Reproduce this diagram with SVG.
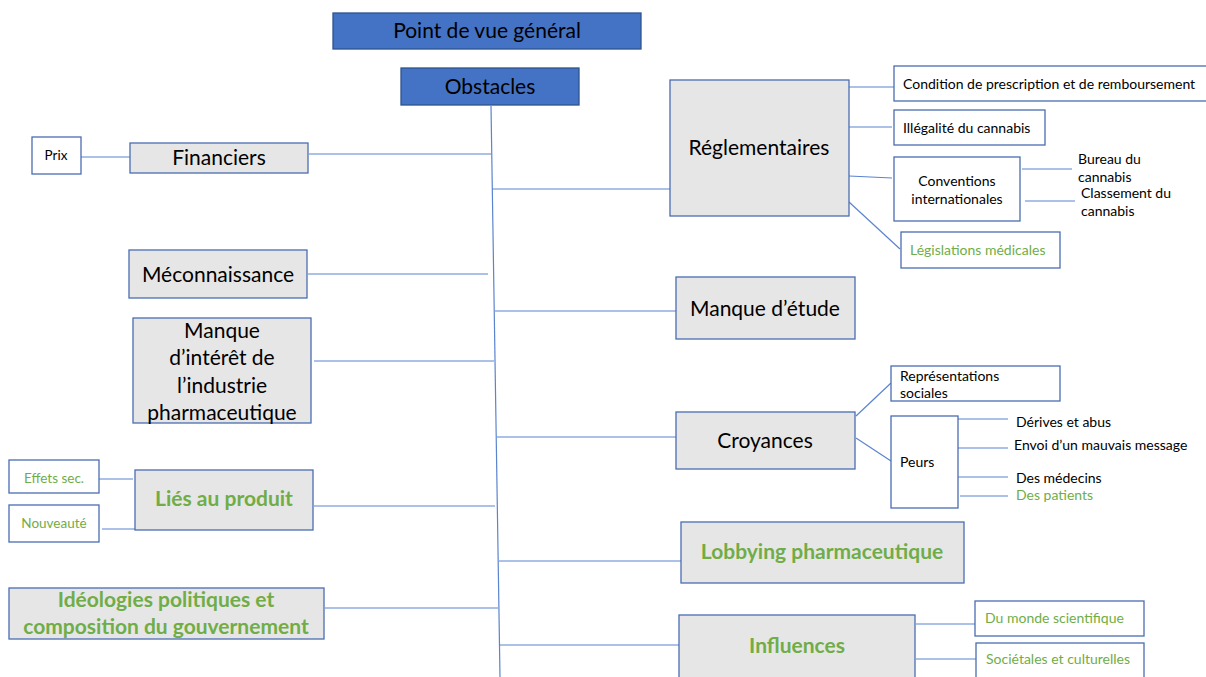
<svg xmlns="http://www.w3.org/2000/svg" width="1206" height="677" viewBox="0 0 1206 677">
<style>
.t{font-family:Lato,"Liberation Sans",sans-serif;fill:#000}
.big{font-size:21px}
.sm{font-size:14px}
.xs{font-size:13.5px}
.g{fill:#70AD47}
.b{font-weight:bold}
.gray{fill:#E7E6E6;stroke:#4A6DB3;stroke-width:1.3}
.wh{fill:#fff;stroke:#4A6DB3;stroke-width:1.3}
.blue{fill:#4472C4;stroke:#2F528F;stroke-width:1.3}
.c line{stroke:#5B84CF;stroke-width:1.2}
</style>
<rect width="1206" height="677" fill="#fff"/>
<g class="c" id="connectors">
<line x1="491" y1="106" x2="500" y2="677"/>
<line x1="309" y1="154" x2="491" y2="154"/>
<line x1="81" y1="157" x2="130" y2="157"/>
<line x1="308" y1="274" x2="488" y2="274"/>
<line x1="314" y1="361" x2="494" y2="361"/>
<line x1="314" y1="506" x2="495" y2="506"/>
<line x1="99" y1="479" x2="133" y2="479"/>
<line x1="102" y1="529" x2="135" y2="529"/>
<line x1="325" y1="608" x2="498" y2="608"/>
<line x1="492" y1="189" x2="670" y2="189"/>
<line x1="495" y1="311" x2="676" y2="311"/>
<line x1="497" y1="437" x2="676" y2="437"/>
<line x1="499" y1="561" x2="681" y2="561"/>
<line x1="500" y1="645" x2="679" y2="645"/>
<line x1="849" y1="87" x2="894" y2="87"/>
<line x1="847" y1="127" x2="892" y2="127"/>
<line x1="849" y1="176" x2="892" y2="178"/>
<line x1="849" y1="202" x2="900" y2="249"/>
<line x1="1022" y1="169" x2="1072" y2="169"/>
<line x1="1025" y1="201" x2="1075" y2="201"/>
<line x1="856" y1="416" x2="891" y2="383"/>
<line x1="856" y1="438" x2="891" y2="461"/>
<line x1="958" y1="419" x2="1008" y2="419"/>
<line x1="958" y1="448" x2="1008" y2="448"/>
<line x1="958" y1="477" x2="1008" y2="477"/>
<line x1="960" y1="496" x2="1008" y2="496"/>
<line x1="916" y1="624" x2="975" y2="624"/>
<line x1="916" y1="659" x2="976" y2="659"/>
</g>
<g id="title"><rect class="blue" x="333" y="13" width="308" height="36" stroke="none"/><text class="t big" x="487" y="38" text-anchor="middle">Point de vue général</text></g>
<g id="obstacles"><rect class="blue" x="401" y="68" width="178" height="37"/><text class="t big" x="490" y="94" text-anchor="middle">Obstacles</text></g>
<g id="prix"><rect class="wh" x="32" y="137" width="49" height="37"/><text class="t xs" x="56" y="160" text-anchor="middle">Prix</text></g>
<g id="financiers"><rect class="gray" x="130" y="143" width="178" height="30"/><text class="t big" x="219" y="165" text-anchor="middle">Financiers</text></g>
<g id="meconnaissance"><rect class="gray" x="129" y="250" width="178" height="48"/><text class="t big" x="218" y="282" text-anchor="middle">Méconnaissance</text></g>
<g id="manque-interet"><rect class="gray" x="133" y="318" width="178" height="105"/><text class="t big" text-anchor="middle"><tspan x="222" y="338">Manque</tspan><tspan x="222" y="365">d’intérêt de</tspan><tspan x="222" y="393">l’industrie</tspan><tspan x="222" y="420">pharmaceutique</tspan></text></g>
<g id="effets"><rect class="wh" x="9" y="460" width="90" height="33"/><text class="t xs g" x="54" y="483" text-anchor="middle">Effets sec.</text></g>
<g id="nouveaute"><rect class="wh" x="9" y="505" width="90" height="37"/><text class="t xs g" x="54" y="528" text-anchor="middle">Nouveauté</text></g>
<g id="lies"><rect class="gray" x="135" y="470" width="178" height="60"/><text class="t big g b" x="224" y="506" text-anchor="middle">Liés au produit</text></g>
<g id="ideologies"><rect class="gray" x="9" y="588" width="315" height="51"/><text class="t big g b" text-anchor="middle"><tspan x="166" y="607">Idéologies politiques et</tspan><tspan x="166" y="634">composition du gouvernement</tspan></text></g>
<g id="reglementaires"><rect class="gray" x="670" y="80" width="179" height="136"/><text class="t big" x="759" y="155" text-anchor="middle">Réglementaires</text></g>
<g id="condition"><rect class="wh" x="894" y="66" width="320" height="35"/><text class="t sm" x="903" y="89">Condition de prescription et de remboursement</text></g>
<g id="illegalite"><rect class="wh" x="894" y="110" width="151" height="35"/><text class="t sm" x="903" y="133">Illégalité du cannabis</text></g>
<g id="conventions"><rect class="wh" x="894" y="157" width="126" height="64"/><text class="t sm" text-anchor="middle"><tspan x="957" y="186">Conventions</tspan><tspan x="957" y="204">internationales</tspan></text></g>
<g id="bureau"><text class="t sm"><tspan x="1078" y="164">Bureau du</tspan><tspan x="1078" y="182">cannabis</tspan></text></g>
<g id="classement"><text class="t sm"><tspan x="1081" y="198">Classement du</tspan><tspan x="1081" y="216">cannabis</tspan></text></g>
<g id="legislations"><rect class="wh" x="901" y="232" width="159" height="36"/><text class="t sm g" x="910" y="255">Législations médicales</text></g>
<g id="manque-etude"><rect class="gray" x="676" y="277" width="179" height="62"/><text class="t big" x="765" y="316" text-anchor="middle">Manque d’étude</text></g>
<g id="croyances"><rect class="gray" x="676" y="412" width="179" height="57"/><text class="t big" x="765" y="448" text-anchor="middle">Croyances</text></g>
<g id="representations"><rect class="wh" x="891" y="366" width="169" height="35"/><text class="t sm"><tspan x="900" y="381">Représentations</tspan><tspan x="900" y="398">sociales</tspan></text></g>
<g id="peurs"><rect class="wh" x="891" y="416" width="67" height="92"/><text class="t sm" x="900" y="467">Peurs</text></g>
<g id="derives"><text class="t sm" x="1016" y="427">Dérives et abus</text></g>
<g id="envoi"><text class="t sm" x="1014" y="450">Envoi d’un mauvais message</text></g>
<g id="medecins"><text class="t sm" x="1016" y="483">Des médecins</text></g>
<g id="patients"><text class="t sm g" x="1016" y="500">Des patients</text></g>
<g id="lobbying"><rect class="gray" x="681" y="522" width="283" height="61"/><text class="t big g b" x="822" y="559" text-anchor="middle">Lobbying pharmaceutique</text></g>
<g id="influences"><rect class="gray" x="679" y="615" width="236" height="80"/><text class="t big g b" x="797" y="653" text-anchor="middle">Influences</text></g>
<g id="scientifique"><rect class="wh" x="975" y="601" width="169" height="35"/><text class="t sm g" x="985" y="623">Du monde scientifique</text></g>
<g id="societales"><rect class="wh" x="976" y="643" width="168" height="45"/><text class="t sm g" x="986" y="664">Sociétales et culturelles</text></g>
</svg>
